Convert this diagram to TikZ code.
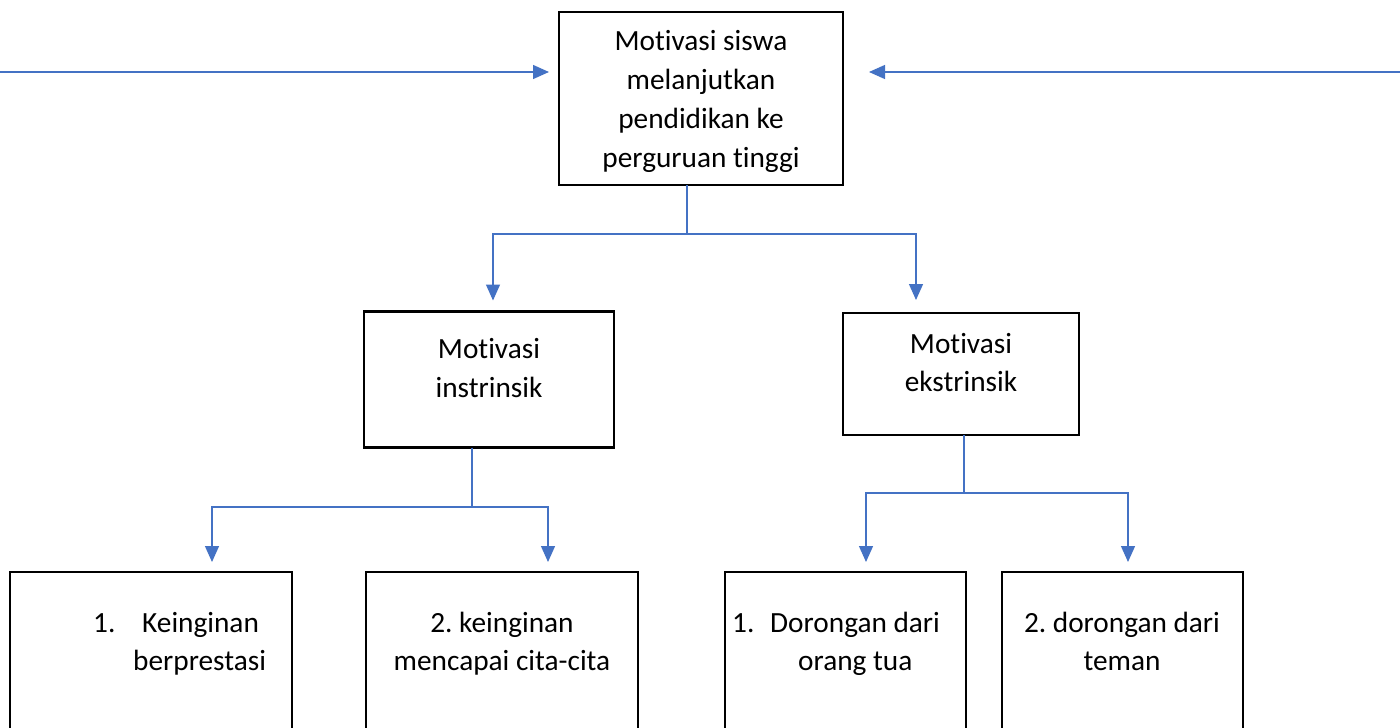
\documentclass[tikz,border=0pt]{standalone}
\usepackage{fontspec}
\setmainfont{Carlito}[Ligatures={NoCommon}]
\frenchspacing
\usetikzlibrary{arrows.meta}
\definecolor{lineblue}{HTML}{4472C4}
\begin{document}
\begin{tikzpicture}[x=1pt,y=-1pt,
  box/.style={draw=black, line width=2.5pt, fill=white, inner sep=0pt, outer sep=0pt},
  conn/.style={draw=lineblue, line width=1.3pt},
  arr/.style={conn, -{Triangle[length=16pt,width=14pt]}},
  txt/.style={font=\fontsize{29.3}{39}\selectfont, inner sep=0pt, anchor=base},
  txtw/.style={txt, anchor=base west}]
\useasboundingbox (0,0) rectangle (1400,728);
\clip (0,0) rectangle (1400,728);
\fill[white] (0,0) rectangle (1400,728);

% boxes
\node[box, minimum width=284pt, minimum height=173pt] (top) at (701,98.5) {};
\node[box, minimum width=250pt, minimum height=136pt] (mi) at (489,379.5) {};
\node[box, minimum width=236pt, minimum height=122pt] (me) at (961,374) {};
\node[box, minimum width=282pt, minimum height=240pt] (b1) at (151,692) {};
\node[box, minimum width=272pt, minimum height=240pt] (b2) at (502,692) {};
\node[box, minimum width=241pt, minimum height=240pt] (b3) at (845.5,692) {};
\node[box, minimum width=241pt, minimum height=240pt] (b4) at (1122.5,692) {};

% texts
\node[txt] (t1) at (701,50) {Motivasi siswa};
\node[txt] (t2) at (701,89) {melanjutkan};
\node[txt] (t3) at (701,128) {pendidikan ke};
\node[txt] (t4) at (701,167) {perguruan tinggi};

\node[txt] (mi1) at (489,358) {Motivasi};
\node[txt] (mi2) at (489,397) {instrinsik};
\node[txt] (me1) at (961,353) {Motivasi};
\node[txt] (me2) at (961,391) {ekstrinsik};

\node[txtw] (b1n) at (93,632) {1.};
\node[txtw] (b1a) at (142,632) {Keinginan};
\node[txtw] (b1b) at (133,670) {berprestasi};

\node[txt] (b2a) at (502,632) {2. keinginan};
\node[txt] (b2b) at (502,670) {mencapai cita-cita};

\node[txtw] (b3n) at (732,632) {1.};
\node[txtw] (b3a) at (770,632) {Dorongan dari};
\node[txtw] (b3b) at (798,670) {orang tua};

\node[txt] (b4a) at (1122,632) {2. dorongan dari};
\node[txt] (b4b) at (1122,670) {teman};

% side arrows
\coordinate (L) at (0,72);
\coordinate (R) at (1400,72);
\draw[arr, shorten >=10pt] (L) -- (top.west |- L);
\draw[arr, shorten >=26pt] (R) -- (top.east |- R);

% top level connectors
\coordinate (j1) at (687,234);
\draw[conn] ([xshift=-14pt]top.south) -- (j1);
\draw[arr, shorten >=11pt] (j1) -| ([xshift=4pt]mi.north);
\draw[arr, shorten >=13pt] (j1) -| ([xshift=-45pt]me.north);

% instrinsik connectors
\coordinate (j2) at (472,507);
\draw[conn] ([xshift=-17pt]mi.south) -- (j2);
\draw[arr, shorten >=10pt] (j2) -| ([xshift=61pt]b1.north);
\draw[arr, shorten >=10pt] (j2) -| ([xshift=46pt]b2.north);

% ekstrinsik connectors
\coordinate (j3) at (964,493);
\draw[conn] ([xshift=3pt]me.south) -- (j3);
\draw[arr, shorten >=10pt] (j3) -| ([xshift=20.5pt]b3.north);
\draw[arr, shorten >=10pt] (j3) -| ([xshift=5.5pt]b4.north);
\end{tikzpicture}
\end{document}
